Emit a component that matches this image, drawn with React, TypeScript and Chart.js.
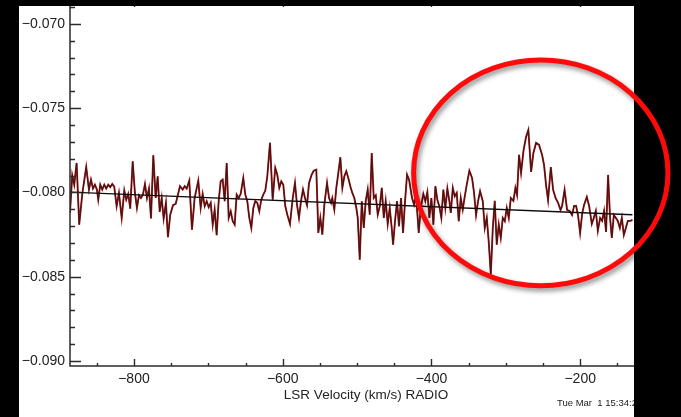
import React, { useEffect, useRef } from "react";
import { Chart, registerables } from "chart.js";

Chart.register(...registerables);

// LSR velocity (km/s) of each spectrum sample
const velocities = [
  -886.0, -883.0, -880.3, -877.1, -873.6, -869.5, -864.2, -860.5, -857.8, -855.1,
  -852.5, -849.8, -848.0, -845.3, -842.6, -839.9, -837.3, -834.6, -831.9, -829.2,
  -826.5, -823.3, -820.2, -816.5, -813.0, -810.4, -807.7, -805.0, -801.7, -798.7,
  -796.0, -793.3, -790.6, -787.9, -785.2, -782.5, -779.8, -777.1, -774.0, -770.8,
  -768.1, -765.4, -762.7, -760.1, -757.0, -754.3, -751.2, -747.5, -743.9, -738.1,
  -734.5, -731.8, -729.1, -725.6, -722.0, -718.4, -713.5, -710.3, -707.6, -704.9,
  -702.2, -699.5, -696.8, -694.1, -691.5, -688.8, -686.1, -683.4, -680.7, -678.0,
  -675.3, -672.6, -669.9, -667.2, -664.6, -661.9, -659.2, -656.5, -653.0, -650.3,
  -647.6, -644.9, -642.2, -639.5, -636.9, -634.2, -631.5, -628.8, -626.1, -623.4,
  -620.7, -617.1, -613.5, -610.0, -607.3, -604.6, -601.9, -599.2, -596.5, -593.8,
  -590.2, -586.5,
  -583.5, -580.8, -578.1, -575.4, -572.7, -570.0, -567.3, -564.6, -561.0, -558.3,
  -554.8, -552.1, -549.4, -546.7, -544.0, -540.4, -537.7, -535.0, -533.3, -530.6,
  -527.9, -525.2, -522.5, -519.8, -517.1, -514.5, -511.8, -509.1, -506.4, -503.7,
  -501.0, -499.1, -496.4, -493.7, -491.0, -488.4, -485.7, -483.0, -480.3, -477.6,
  -474.9, -472.2, -469.5, -466.8, -464.1, -461.5, -458.8, -456.1, -453.4, -451.6,
  -449.0, -446.3, -443.6, -440.9, -438.2, -435.5, -432.8, -430.1,
  -426.1, -423.4, -420.7, -417.1, -414.4, -410.9, -408.2, -405.5, -402.8, -400.1,
  -397.4, -394.7, -392.1, -389.4, -386.7, -384.0, -381.3, -378.6, -375.9, -374.0,
  -371.3, -368.7, -366.0, -363.3, -360.6, -357.9, -355.2, -352.5, -349.0, -345.4,
  -342.7, -340.0, -337.3, -334.6, -331.0, -328.3, -325.6, -323.0, -320.2, -317.5,
  -314.9, -312.2, -309.5, -306.8, -304.1, -301.4, -298.7, -296.0, -293.3, -289.8,
  -287.1, -284.9, -282.2, -279.5, -276.1, -272.8, -269.7, -266.0, -262.9, -259.3,
  -255.3, -251.2, -248.6, -245.9, -243.2, -239.5, -236.4, -233.1, -229.7, -226.4,
  -224.3, -221.0, -217.6, -214.2, -210.9, -208.2, -205.5, -202.8, -200.1, -197.4,
  -194.8, -191.1, -188.0, -184.4, -181.7, -179.0, -176.3, -173.2, -170.5, -167.9,
  -165.2, -162.5, -159.8, -157.5, -154.8, -152.1, -149.4, -146.7, -144.0, -141.3,
  -138.6, -136.0, -132.5, -129.8,
];

// antenna signal at each sample
const intensities = [
  -0.08122, -0.07898, -0.07954, -0.07825, -0.08191, -0.08009, -0.07850, -0.07983, -0.07924, -0.07977,
  -0.07954, -0.07983, -0.08043, -0.07954, -0.07983, -0.07954, -0.07977, -0.07954, -0.07969, -0.07950,
  -0.07966, -0.08082, -0.08003, -0.08151, -0.07989, -0.08043, -0.08009, -0.08096, -0.07815, -0.08003,
  -0.08092, -0.08017, -0.08033, -0.08013, -0.07950, -0.08033, -0.07977, -0.08155, -0.07779, -0.08033,
  -0.07904, -0.08116, -0.08033, -0.08155, -0.08062, -0.08266, -0.08132, -0.08076, -0.08068, -0.07963,
  -0.07983, -0.07963, -0.07977, -0.07930, -0.08221, -0.08033, -0.07930, -0.08092, -0.08009, -0.08082,
  -0.08052, -0.08088, -0.08062, -0.08191, -0.08102, -0.08254, -0.08052, -0.07934, -0.07924, -0.08052,
  -0.07825, -0.08151, -0.08112, -0.08171, -0.08191, -0.08013, -0.08033, -0.08009, -0.07914, -0.08013,
  -0.08052, -0.08151, -0.08211, -0.08092, -0.08052, -0.08062, -0.08112, -0.08043, -0.08013, -0.07989,
  -0.07904, -0.07706, -0.08043, -0.07855, -0.07894, -0.07973, -0.07934, -0.07954, -0.08082, -0.08132,
  -0.08187, -0.08033,
  -0.07944, -0.08072, -0.08151, -0.08052, -0.07983, -0.08033, -0.08076, -0.07944, -0.07894, -0.07871,
  -0.07865, -0.08240, -0.08151, -0.08250, -0.08072, -0.07944, -0.08033, -0.08062, -0.08033, -0.08102,
  -0.07973, -0.07884, -0.07791, -0.07973, -0.07904, -0.07874, -0.07914, -0.07963, -0.08003, -0.08033,
  -0.08092, -0.08151, -0.08399, -0.08052, -0.08211, -0.08052, -0.07983, -0.08132, -0.07766, -0.08033,
  -0.08017, -0.08132, -0.08082, -0.07973, -0.08151, -0.08052, -0.08187, -0.08092, -0.08211, -0.08310,
  -0.08171, -0.08052, -0.08201, -0.08033, -0.08240, -0.08052, -0.07894, -0.07924,
  -0.08033, -0.08072, -0.08013, -0.08240, -0.08092, -0.08009, -0.08052, -0.07997, -0.08151, -0.08033,
  -0.08191, -0.07963, -0.08043, -0.08082, -0.08151, -0.07983, -0.08092, -0.07977, -0.08052, -0.08122,
  -0.07973, -0.08023, -0.08003, -0.08171, -0.08033, -0.08102, -0.08023, -0.07954, -0.07871, -0.07914,
  -0.08003, -0.08135, -0.08052, -0.07993, -0.08052, -0.08211, -0.08151, -0.08290, -0.08488, -0.08211,
  -0.08049, -0.08310, -0.08191, -0.08270, -0.08151, -0.08171, -0.08092, -0.08151, -0.08033, -0.08050,
  -0.07973, -0.08015, -0.07777, -0.07884, -0.07748, -0.07671, -0.07629, -0.07878, -0.07766, -0.07706,
  -0.07718, -0.07777, -0.07837, -0.07955, -0.08045, -0.07849, -0.07985, -0.08033, -0.08062, -0.08104,
  -0.08080, -0.07985, -0.08104, -0.08110, -0.08134, -0.08080, -0.08080, -0.08139, -0.08240, -0.08128,
  -0.08074, -0.08027, -0.08080, -0.08187, -0.08151, -0.08110, -0.08228, -0.08151, -0.08169, -0.08110,
  -0.08234, -0.07896, -0.08151, -0.08270, -0.08134, -0.08151, -0.08169, -0.08211, -0.08151, -0.08252,
  -0.08211, -0.08169, -0.08169, -0.08163,
];

// fitted linear baseline (end points)
const baselineVelocities = [-886.0, -129.8];
const baselineValues = [-0.07998, -0.08132];

const xTickValues = [-800, -600, -400, -200];
const xMinorTicks = [-850, -750, -700, -650, -550, -500, -450, -350, -300, -250, -150, -100];
const yTickValues = [-0.09, -0.085, -0.08, -0.075, -0.07];
const yMinorTicks = [
  -0.089, -0.088, -0.087, -0.086, -0.084, -0.083, -0.082, -0.081,
  -0.079, -0.078, -0.077, -0.076, -0.074, -0.073, -0.072, -0.071, -0.069,
];
const X_MIN = -886;
const X_MAX = -90;
const Y_MIN = -0.0903;
const Y_MAX = -0.06858;

const xTitle = "LSR Velocity (km/s) RADIO";
const dateStamp = "Tue Mar  1 15:34:27 2011";

// highlighted region (centre and half-extents in data units)
const highlightCenter = { v: -253, y: -0.07884 };
const highlightHalf = { v: 171, y: 0.0067 };

const FONT = '"Liberation Sans", Arial, Helvetica, sans-serif';
const fmtMinus = (s: string) => s.replace("-", "\u2212");

const decorPlugin = {
  id: "decor",
  beforeDraw(chart: any) {
    const ctx = chart.ctx;
    ctx.save();
    ctx.fillStyle = "#000";
    ctx.fillRect(0, 0, chart.width, chart.height);
    ctx.fillStyle = "#fff";
    ctx.fillRect(19, 6, 634 - 19, chart.height - 6);
    ctx.restore();
  },
  afterDraw(chart: any) {
    const ctx = chart.ctx;
    const { left, right, top, bottom } = chart.chartArea;
    const xs = chart.scales.x;
    const ys = chart.scales.y;
    ctx.save();
    ctx.strokeStyle = "#2b2b2b";
    ctx.lineWidth = 1.5;
    ctx.strokeRect(left, top, right - left, bottom - top);
    ctx.lineWidth = 1.4;
    ctx.beginPath();
    for (const v of yTickValues) {
      const p = Math.round(ys.getPixelForValue(v)) + 0.5;
      ctx.moveTo(left, p); ctx.lineTo(left + 11, p);
      ctx.moveTo(right, p); ctx.lineTo(right - 11, p);
    }
    for (const v of yMinorTicks) {
      const p = Math.round(ys.getPixelForValue(v)) + 0.5;
      ctx.moveTo(left, p); ctx.lineTo(left + 5, p);
      ctx.moveTo(right, p); ctx.lineTo(right - 5, p);
    }
    for (const v of xTickValues) {
      const p = Math.round(xs.getPixelForValue(v)) + 0.5;
      ctx.moveTo(p, bottom); ctx.lineTo(p, bottom - 7);
      ctx.moveTo(p, top); ctx.lineTo(p, top + 7);
    }
    for (const v of xMinorTicks) {
      const p = Math.round(xs.getPixelForValue(v)) + 0.5;
      ctx.moveTo(p, bottom); ctx.lineTo(p, bottom - 3);
      ctx.moveTo(p, top); ctx.lineTo(p, top + 3);
    }
    ctx.stroke();

    ctx.fillStyle = "#222";
    ctx.font = "9.5px " + FONT;
    ctx.textBaseline = "middle";
    ctx.textAlign = "left";
    ctx.fillText(dateStamp, 557, 403);

    ctx.fillStyle = "#000";
    ctx.fillRect(634, 0, chart.width - 634, chart.height);
    ctx.fillRect(0, 0, chart.width, 6);

    const cx = xs.getPixelForValue(highlightCenter.v);
    const cy = ys.getPixelForValue(highlightCenter.y);
    const rx = Math.abs(xs.getPixelForValue(highlightCenter.v + highlightHalf.v) - cx);
    const ry = Math.abs(ys.getPixelForValue(highlightCenter.y + highlightHalf.y) - cy);
    ctx.shadowColor = "rgba(0,0,0,0.45)";
    ctx.shadowBlur = 5;
    ctx.shadowOffsetX = 2;
    ctx.shadowOffsetY = 3;
    ctx.strokeStyle = "#ff0a0a";
    ctx.lineWidth = 5;
    ctx.beginPath();
    ctx.ellipse(cx, cy, rx, ry, 0, 0, Math.PI * 2);
    ctx.stroke();
    ctx.restore();
  },
};

export default function App() {
  const ref = useRef<HTMLCanvasElement | null>(null);
  useEffect(() => {
    document.body.style.margin = "0";
    document.body.style.background = "#000";
    const canvas = ref.current;
    if (!canvas) return;
    const spectrum = velocities.map((v, i) => ({ x: v, y: intensities[i] }));
    const baseline = baselineVelocities.map((v, i) => ({ x: v, y: baselineValues[i] }));
    const chart = new Chart(canvas, {
      type: "line",
      data: {
        datasets: [
          { data: baseline, borderColor: "#0d0d0d", borderWidth: 1.4, pointRadius: 0, tension: 0 },
          { data: spectrum, borderColor: "rgba(40,22,22,0.85)", borderWidth: 1.1, pointRadius: 0, tension: 0 },
          { data: spectrum, borderColor: "#b81818", borderWidth: 1.9, pointRadius: 0, tension: 0 },
        ],
      },
      options: {
        animation: false,
        responsive: false,
        devicePixelRatio: 1,
        layout: { padding: { left: 0, right: 681 - 662, top: 0, bottom: 0 } },
        plugins: { legend: { display: false }, tooltip: { enabled: false } },
        scales: {
          x: {
            type: "linear",
            min: X_MIN,
            max: X_MAX,
            grid: { display: false, drawTicks: false },
            border: { display: false },
            afterBuildTicks: (s: any) => { s.ticks = xTickValues.map((value) => ({ value })); },
            afterFit: (s: any) => {
              s.height = 51;
              s.paddingLeft = 0;
              s.paddingRight = 0;
            },
            ticks: {
              padding: 5,
              color: "#222",
              autoSkip: false,
              maxRotation: 0,
              font: { family: FONT, size: 14 },
              callback: (v: any) => fmtMinus(String(v)),
            },
            title: {
              display: true,
              text: xTitle,
              color: "#222",
              font: { family: FONT, size: 13.5 },
              padding: { top: 0, bottom: 14 },
            },
          },
          y: {
            type: "linear",
            min: Y_MIN,
            max: Y_MAX,
            grid: { display: false, drawTicks: false },
            border: { display: false },
            afterBuildTicks: (s: any) => { s.ticks = yTickValues.map((value) => ({ value })); },
            afterFit: (s: any) => {
              s.width = 70;
              s.paddingTop = 0;
              s.paddingBottom = 0;
            },
            ticks: {
              padding: 5,
              color: "#222",
              font: { family: FONT, size: 14 },
              callback: (v: any) => fmtMinus(Number(v).toFixed(3)),
            },
          },
        },
      },
      plugins: [decorPlugin],
    });
    return () => chart.destroy();
  }, []);
  return <canvas ref={ref} width={681} height={417} style={{ display: "block" }} />;
}
